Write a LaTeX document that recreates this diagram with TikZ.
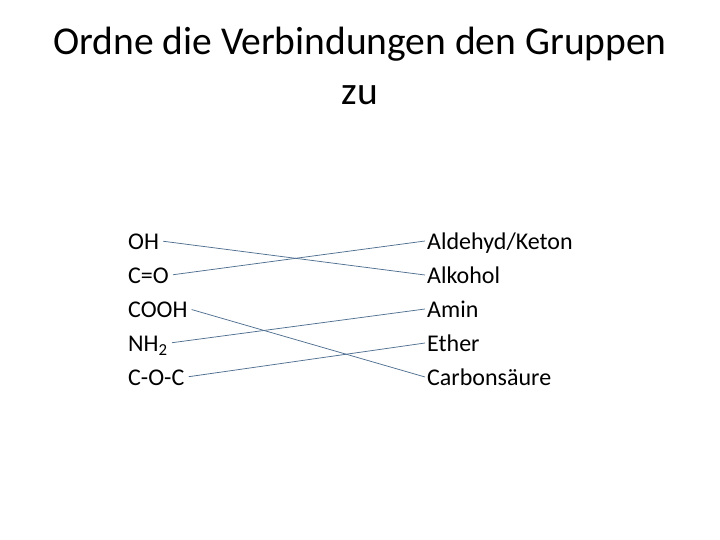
\documentclass[tikz,border=0pt]{standalone}
\usepackage{fontspec}
\setmainfont{Carlito}
\usetikzlibrary{positioning}
\definecolor{linkblue}{RGB}{80,112,145}

\begin{document}
\begin{tikzpicture}[x=1pt,y=-1pt,
  title node/.style={anchor=base,inner sep=0pt,font=\fontsize{39.5}{48}\selectfont},
  group node/.style={anchor=west,inner xsep=2pt,inner ysep=0pt,text height=17pt,text depth=0pt,font=\fontsize{24}{28}\selectfont},
  link/.style={draw=linkblue,line width=0.75pt,shorten <=2pt}]
  \useasboundingbox (0,0) rectangle (720,540);

  \node[title node] (title) at (360,55) {Ordne die Verbindungen den Gruppen};
  \node[title node] (titlezu) at (360,105) {zu};

  % groups
  \node[group node] (oh)   at (126,241) {OH};
  \node[group node] (co)   at (126,275) {C=O};
  \node[group node] (cooh) at (126,309) {COOH};
  \node[group node] (nh)   at (126,343) {NH\textsubscript{2}};
  \node[group node] (coc)  at (126,377) {C-O-C};

  % classes
  \node[group node] (ald)   at (425,241) {Aldehyd/Keton};
  \node[group node] (alk)   at (425,275) {Alkohol};
  \node[group node] (amin)  at (425,309) {Amin};
  \node[group node] (ether) at (425,343) {Ether};
  \node[group node] (acid)  at (425,377) {Carbonsäure};

  \path[link]
    (oh.east) edge (alk.west)
    (co.east) edge (ald.west)
    (cooh.east) edge (acid.west)
    (nh.east) edge (amin.west)
    (coc.east) edge (ether.west);
\end{tikzpicture}
\end{document}
